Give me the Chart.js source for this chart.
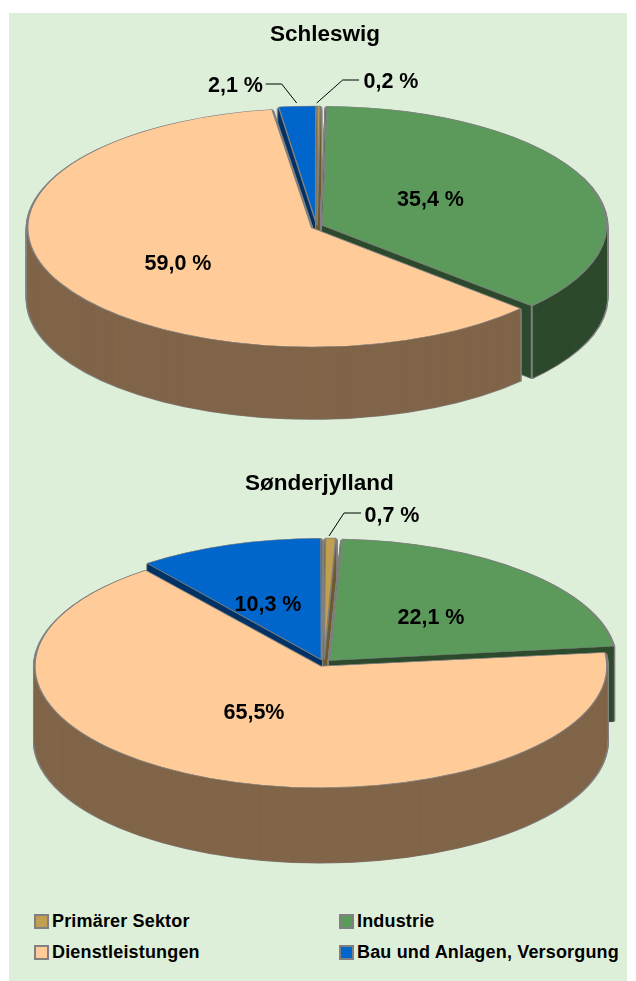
<!DOCTYPE html>
<html lang="de">
<head>
<meta charset="utf-8">
<title>Schleswig / Sønderjylland</title>
<script src="https://cdn.jsdelivr.net/npm/chart.js@4/dist/chart.umd.min.js"></script>
<style>
  html, body { margin: 0; padding: 0; background: #fff; }
  #page { position: relative; width: 636px; height: 981px; overflow: hidden; font-family: "Liberation Sans", Arial, sans-serif; }
  #panel { position: absolute; left: 9px; top: 13px; width: 618px; height: 968px; background: #deefd9; }
  canvas { position: absolute; }
  .title { position: absolute; font-weight: bold; font-size: 22.5px; line-height: 24px; color: #000; white-space: nowrap; }
  .key { position: absolute; font-weight: bold; font-size: 18px; letter-spacing: 0.17px; line-height: 20px; color: #000; white-space: nowrap; }
  .key i { position: absolute; left: -18px; top: 3px; width: 11px; height: 11px; border: 2px solid #808080; }
</style>
</head>
<body>
<div id="page">
  <div id="panel"></div>
  <canvas id="pie1" width="636" height="441" style="left:-1px;top:6px"></canvas>
  <canvas id="pie2" width="636" height="440" style="left:6px;top:443px"></canvas>
  <div class="title" style="top:22px;left:270px">Schleswig</div>
  <div class="title" style="top:471px;left:245px">Sønderjylland</div>
  <div id="legend"></div>
</div>
<script>
const categories = ['Primärer Sektor', 'Industrie', 'Dienstleistungen', 'Bau und Anlagen, Versorgung'];
const schleswigValues = [0.2, 35.4, 59.0, 2.1];
const sonderjyllandValues = [0.7, 22.1, 65.5, 10.3];
const schleswigLabels = ['0,2 %', '35,4 %', '59,0 %', '2,1 %'];
const sonderjyllandLabels = ['0,7 %', '22,1 %', '65,5%', '10,3 %'];

const topColors  = ['#c0a050', '#5b9a5b', '#ffcc99', '#0066cc'];
const sideColors = ['#6e5c2e', '#2d4a2d', '#806549', '#003366'];
const EDGE = '#808080';

// back to front, Dienstleistungen has to go over the others
const DRAW_ORDER = [3, 0, 1, 2];

// fake 3D: squash the arcs in y and stack them for the side walls
const tiltPie = {
  id: 'tiltPie',
  beforeDatasetDraw(chart) {
    const o = chart.options.plugins.tiltPie;
    const ctx = chart.ctx;
    const arcs = chart.getDatasetMeta(0).data;
    const cy = arcs[0].y;

    const squash = dy => {
      ctx.translate(0, cy + dy);
      ctx.scale(1, o.squash);
      ctx.translate(0, -cy);
    };
    const drawArc = (arc, dy, fill, stroke, width) => {
      const saved = arc.options;
      const savedR = arc.outerRadius;
      // ArcElement grows the radius of offset arcs, take that back out
      const shift = saved.offset / 4;
      const fix = 1 - Math.sin(Math.min(Math.PI, arc.circumference));
      arc.outerRadius = savedR - shift * fix;
      arc.options = Object.assign({}, saved, { backgroundColor: fill, borderColor: stroke, borderWidth: width });
      ctx.save();
      squash(dy);
      arc.draw(ctx);
      ctx.restore();
      arc.options = saved;
      arc.outerRadius = savedR;
    };
    const drawCorner = arc => {
      const shift = arc.options.offset / 4;
      const mid = (arc.startAngle + arc.endAngle) / 2;
      const x = arc.x + Math.cos(mid) * shift + Math.cos(arc.endAngle) * arc.outerRadius;
      const y = cy + o.squash * (Math.sin(mid) * shift + Math.sin(arc.endAngle) * arc.outerRadius);
      ctx.save();
      ctx.strokeStyle = EDGE;
      ctx.lineWidth = 2;
      ctx.beginPath();
      ctx.moveTo(x, y);
      ctx.lineTo(x, y + o.depth);
      ctx.stroke();
      ctx.restore();
    };

    DRAW_ORDER.forEach(i => {
      const arc = arcs[i];
      for (let d = o.depth; d > 0; d--) drawArc(arc, d, EDGE, EDGE, 4);
      for (let d = o.depth; d > 0; d--) drawArc(arc, d, sideColors[i], sideColors[i], 1);
      if (o.corners.includes(i)) drawCorner(arc);
      drawArc(arc, 0, topColors[i], EDGE, 1.5);
    });
    return false;
  },
  afterDatasetsDraw(chart) {
    const o = chart.options.plugins.tiltPie;
    const ctx = chart.ctx;
    ctx.save();
    ctx.font = 'bold 21.5px "Liberation Sans", Arial, sans-serif';
    ctx.fillStyle = '#000';
    ctx.textAlign = 'center';
    ctx.textBaseline = 'middle';
    o.labels.forEach((text, i) => ctx.fillText(text, o.labelAt[i][0], o.labelAt[i][1]));
    ctx.strokeStyle = '#000';
    ctx.lineWidth = 1;
    o.leaders.forEach(pts => {
      ctx.beginPath();
      pts.forEach((p, j) => (j ? ctx.lineTo(p[0], p[1]) : ctx.moveTo(p[0], p[1])));
      ctx.stroke();
    });
    ctx.restore();
  },
};

function makePie(id, values, offsets, radius, plugOpts) {
  return new Chart(document.getElementById(id), {
    type: 'pie',
    data: {
      labels: categories,
      datasets: [{
        data: values,
        backgroundColor: topColors,
        borderColor: EDGE,
        borderWidth: 2,
        offset: offsets,
        clip: false,
      }],
    },
    plugins: [tiltPie],
    options: {
      responsive: false,
      animation: false,
      radius,
      events: [],
      plugins: {
        legend: { display: false },
        tooltip: { enabled: false },
        tiltPie: plugOpts,
      },
    },
  });
}

makePie('pie1', schleswigValues, [12, 24, 24, 12], 284, {
  squash: 0.42,
  depth: 72,
  corners: [1],
  labels: schleswigLabels,
  labelAt: [[392, 76], [431.5, 194], [179, 258], [236.5, 80]],
  leaders: [[[317.7, 97], [343.7, 74], [360, 74]], [[297.7, 97], [282.7, 78], [266.7, 78]]],
});

makePie('pie2', sonderjyllandValues, 32, 286, {
  squash: 0.425,
  depth: 75,
  corners: [],
  labels: sonderjyllandLabels,
  labelAt: [[386, 73], [425, 175], [248, 270], [262, 162]],
  leaders: [[[323, 93], [338, 70], [355, 70]]],
});

// legend is plain html
const legendBox = document.getElementById('legend');
const keySpots = [[52, 911], [357, 911], [52, 942], [357, 942]];
categories.forEach((name, i) => {
  const el = document.createElement('div');
  el.className = 'key';
  el.style.left = keySpots[i][0] + 'px';
  el.style.top = keySpots[i][1] + 'px';
  el.innerHTML = '<i style="background:' + topColors[i] + '"></i>' + name;
  legendBox.appendChild(el);
});
</script>
</body>
</html>
